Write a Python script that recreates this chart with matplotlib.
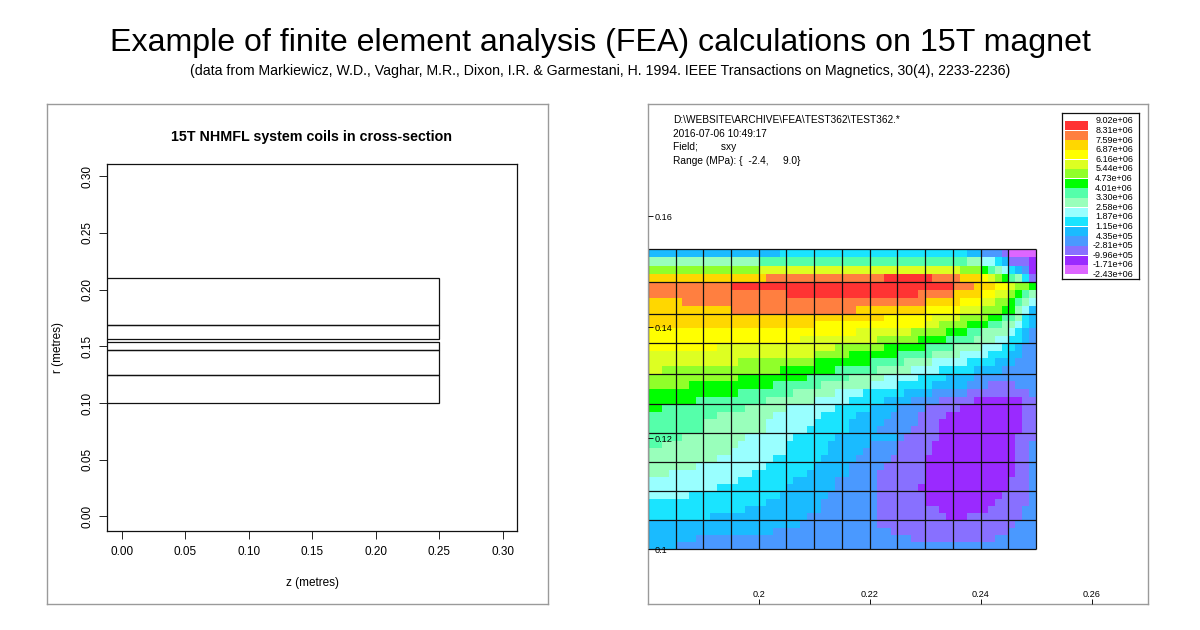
import numpy as np
import matplotlib
matplotlib.use("Agg")
import matplotlib.pyplot as plt
from matplotlib.colors import ListedColormap, BoundaryNorm

plt.rcParams['font.family'] = ['Liberation Sans', 'DejaVu Sans']

W, H = 1200, 630
TITLE = "Example of finite element analysis (FEA) calculations on 15T magnet"
SUBTITLE = "(data from Markiewicz, W.D., Vaghar, M.R., Dixon, I.R. & Garmestani, H. 1994. IEEE Transactions on Magnetics, 30(4), 2233-2236)"

# left panel: coil bounds
coil_z_max = 0.25
coil_z_min = -0.25
coil_r_bounds = [(0.1, 0.125), (0.125, 0.147), (0.147, 0.1534), (0.1567, 0.169), (0.169, 0.21)]
axis_ticks = [0.00, 0.05, 0.10, 0.15, 0.20, 0.25, 0.30]

# right panel: FEA element edges
z_edges = [0.18, 0.185, 0.19, 0.195, 0.20, 0.205, 0.21, 0.215, 0.22, 0.225, 0.23, 0.235, 0.24, 0.245, 0.25]
r_edges = [0.1, 0.10517, 0.1104, 0.11562, 0.12085, 0.12607, 0.13159, 0.13712, 0.1424, 0.14811, 0.15405]
legend_levels = ["9.02e+06", "8.31e+06", "7.59e+06", "6.87e+06", "6.16e+06", "5.44e+06", "4.73e+06", "4.01e+06",
                 "3.30e+06", "2.58e+06", "1.87e+06", "1.15e+06", "4.35e+05", "-2.81e+05", "-9.96e+05", "-1.71e+06", "-2.43e+06"]
band_letters = "abcdefghijklmnop"
band_colors = ["#FF3333", "#FF7F40", "#FFD700", "#FFFF00", "#DDFF22", "#90FF2A", "#00FF00", "#55FFAA",
               "#99FFBB", "#99FFFF", "#1AE4FF", "#1ABBFF", "#4A99FF", "#8870FF", "#9A2AFF", "#DD66FF"]

# stress band per sub-cell, run-length coded, from top row (largest r) downwards
band_runs = [
    "l19 k27 l2 m3 n1 p4",
    "i16 h30 i2 j2 k1 l1 n3 o1",
    "f16 e29 f3 g1 h1 i1 j1 k1 l1 m1 o1",
    "c17 b17 a7 b4 c3 d1 e1 f1 g1 h1 i1 k1 n1",
    "b12 a32 b3 c3 d2 e1 f2 g1",
    "b20 a19 b5 c4 d2 e2 f1 g1 h1 i1",
    "c5 b35 c5 d3 e2 f2 g1 h1 i1 j1",
    "c12 b18 c10 d5 e3 f3 g2 i1 j1 l1",
    "c34 d7 e4 f4 g2 h2 i1 k1 l1",
    "c24 d16 e2 f4 g3 h2 i2 j1 k1 l1",
    "d30 e8 f5 g3 h2 i4 j1 k1 l1 m1",
    "d22 e11 f6 g4 h4 i3 j2 k2 l1 m1",
    "d10 e17 f7 g6 h4 i4 j3 k2 l1 m2",
    "e24 f5 g7 h5 i4 j4 k3 l2 m2",
    "e13 f11 g8 h5 i4 j5 k4 l3 m3",
    "e2 f17 g8 h6 i5 j4 k5 l4 m5",
    "f13 g10 h6 i5 j5 k4 l4 m9",
    "f6 g12 h7 i7 j4 k5 l5 m3 n4 m3",
    "g13 h8 i6 j4 k6 l4 m5 n9 m1",
    "g7 h10 i7 j5 k5 l4 m4 n5 o7 n2",
    "g2 h12 i6 j7 k5 l4 m4 n5 o9 n2",
    "h10 i8 j7 k5 l5 m4 n4 o11 n2",
    "h8 i9 j7 k5 l5 m5 n3 o12 n2",
    "h8 i9 j6 k6 l4 m5 n4 o12 n2",
    "h5 i9 j7 k6 l9 m1 n5 o11 n3",
    "h2 i11 j7 k6 l6 m4 n5 o12 n2 m1",
    "i12 j8 k6 l5 m5 n5 o12 n2 m1",
    "i10 j8 k7 l5 m5 n5 o13 n2 m1",
    "i7 j10 k7 l5 m5 n6 o13 n2 m1",
    "i3 j12 k8 l6 m4 n7 o13 n2 m1",
    "j13 k8 l6 m6 n7 o12 n3 m1",
    "j10 k10 l7 m6 n6 o13 n3 m1",
    "j6 k13 l7 m7 n7 o11 n4 m1",
    "k17 l8 m8 n7 o10 n5 m1",
    "k14 l11 m8 n9 o7 n5 m2",
    "k9 l14 m10 n10 o3 n8 m2",
    "l22 m11 n20 m3",
    "l18 m17 n17 m4",
    "l7 m31 n12 m6",
    "l4 m52",
]
info_lines = ["D:\\WEBSITE\\ARCHIVE\\FEA\\TEST362\\TEST362.*", "2016-07-06 10:49:17", "Field;        sxy", "Range (MPa): {  -2.4,     9.0}"]
info_y = [120, 134, 147, 161]
map_r_ticks = [0.10, 0.12, 0.14, 0.16]
map_r_labels = ["0.1", "0.12", "0.14", "0.16"]
map_z_ticks = [0.20, 0.22, 0.24, 0.26]
map_z_labels = ["0.2", "0.22", "0.24", "0.26"]

GREY = "#9a9a9a"


def px_axes(fig, x0, y0, x1, y1, **kw):
    return fig.add_axes([x0 / W, 1 - y1 / H, (x1 - x0) / W, (y1 - y0) / H], **kw)


def decode(run):
    out = []
    for item in run.split():
        out += [band_letters.index(item[0])] * int(item[1:])
    return out


fig = plt.figure(figsize=(W / 100, H / 100), dpi=100, facecolor="white")
fig.text(600 / W, 1 - 42.5 / H, TITLE, ha="center", va="center", fontsize=23.1, color="black")
fig.text(600 / W, 1 - 71.5 / H, SUBTITLE, ha="center", va="center", fontsize=10.2, color="black")

# ---- left panel
frame = px_axes(fig, 47, 104, 548, 604)
frame.set_xticks([]); frame.set_yticks([])
for s in frame.spines.values():
    s.set_color(GREY); s.set_linewidth(1)

ax = px_axes(fig, 107, 164, 517, 531)
ax.patch.set_alpha(0)
ax.set_xlim(-0.0117, 0.3111)
ax.set_ylim(-0.0129, 0.3107)
for (r0, r1) in coil_r_bounds:
    ax.fill([coil_z_min, coil_z_max, coil_z_max, coil_z_min], [r0, r0, r1, r1],
            facecolor="none", edgecolor="#111111", linewidth=0.9)
ax.set_xticks(axis_ticks, [f"{t:.2f}" for t in axis_ticks])
ax.set_yticks(axis_ticks, [f"{t:.2f}" for t in axis_ticks])
ax.tick_params(axis="both", direction="out", length=5.8, width=0.7, labelsize=8.5, color="#222222")
ax.tick_params(axis="x", pad=5)
ax.tick_params(axis="y", pad=4)
for t in ax.get_yticklabels():
    t.set_rotation(90); t.set_va("center")
for s in ax.spines.values():
    s.set_linewidth(0.9); s.set_color("#111111")
ax.set_xlabel("z (metres)", fontsize=8.5, labelpad=13.7)
ax.set_ylabel("r (metres)", fontsize=8.5, labelpad=12.3)
fig.text(311.5 / W, 1 - 137 / H, "15T NHMFL system coils in cross-section", ha="center", va="center",
         fontsize=10.3, fontweight="bold")

# ---- right panel
bx = px_axes(fig, 647.5, 104, 1148, 604)
bx.set_xlim(0.17995, 0.27015)
bx.set_ylim(0.0901, 0.18018)
for s in bx.spines.values():
    s.set_color(GREY); s.set_linewidth(1)
cells = np.array([decode(r) for r in band_runs])[::-1]
z_sub = np.concatenate([np.linspace(a, b, 4, endpoint=False) for a, b in zip(z_edges[:-1], z_edges[1:])] + [[z_edges[-1]]])
r_sub = np.concatenate([np.linspace(a, b, 4, endpoint=False) for a, b in zip(r_edges[:-1], r_edges[1:])] + [[r_edges[-1]]])
cmap = ListedColormap(band_colors)
norm = BoundaryNorm(np.arange(-0.5, len(band_colors)), cmap.N)
bx.pcolormesh(z_sub, r_sub, cells, cmap=cmap, norm=norm, shading="flat", antialiased=False, linewidth=0)
bx.vlines(z_edges, r_edges[0], r_edges[-1], color="#111111", linewidth=0.9, zorder=2)
bx.hlines(r_edges, z_edges[0], z_edges[-1], color="#111111", linewidth=0.9, zorder=2)
bx.set_axisbelow(False)
bx.set_xticks(map_z_ticks, map_z_labels)
bx.set_yticks(map_r_ticks, map_r_labels)
bx.tick_params(axis="both", direction="in", length=3.6, width=0.7, labelsize=6.6, color="#111111")
bx.tick_params(axis="x", pad=-10)
bx.tick_params(axis="y", pad=-5)
for t in bx.get_yticklabels():
    t.set_ha("left")
for line, y in zip(info_lines, info_y):
    fig.text(673 / W, 1 - y / H, line, ha="left", va="center", fontsize=7.25)

# legend
lg = px_axes(fig, 1062, 113, 1138.5, 279)
lg.set_xlim(1062, 1138.5)
n = len(band_colors)
lg.set_ylim(16.46, -0.833)
lg.bar([1076.5] * n, 0.96, width=23, bottom=[i + 0.02 for i in range(n)], color=band_colors, linewidth=0)
for i, lab in enumerate(legend_levels):
    lg.text(1133, i, lab, ha="right", va="center", fontsize=6.5)
lg.set_xticks([]); lg.set_yticks([])
for s in lg.spines.values():
    s.set_linewidth(0.9); s.set_color("#111111")

fig.savefig("out.png", dpi=100)
